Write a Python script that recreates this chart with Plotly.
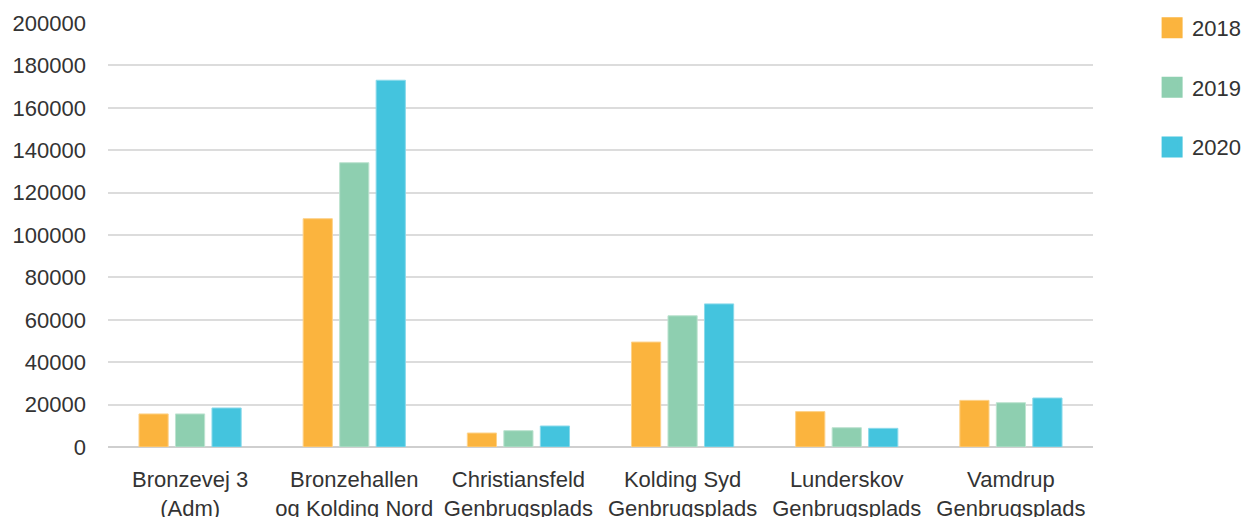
import plotly.graph_objects as go

categories = [
    "Bronzevej 3<br>(Adm)",
    "Bronzehallen<br>og Kolding Nord",
    "Christiansfeld<br>Genbrugsplads",
    "Kolding Syd<br>Genbrugsplads",
    "Lunderskov<br>Genbrugsplads",
    "Vamdrup<br>Genbrugsplads",
]
years = ["2018", "2019", "2020"]
values_2018 = [15600, 107700, 6600, 49500, 16700, 22000]
values_2019 = [15600, 134100, 7700, 61900, 9100, 20900]
values_2020 = [18400, 173000, 9900, 67500, 8800, 23100]
series = [values_2018, values_2019, values_2020]
colors = ["#FBB43E", "#8ECFB0", "#44C4DE"]
line_colors = ["#FDD28A", "#BDE3D0", "#8AD9EA"]

FONT = "Liberation Sans, Arial, sans-serif"
TXT = "#333333"

fig = go.Figure()
for yr, vals, c, lc in zip(years, series, colors, line_colors):
    fig.add_trace(go.Bar(
        x=categories, y=vals, name=yr, marker=dict(color=c, line=dict(color=lc, width=1)),
        showlegend=False, legendgroup=yr,
    ))
for yr, c in zip(years, colors):
    fig.add_trace(go.Scatter(
        x=[None], y=[None], mode="markers", name=yr, legendgroup=yr,
        marker=dict(symbol="square", size=16, color=c, line=dict(color=c, width=5)),
    ))

fig.update_layout(
    width=1247, height=517,
    margin=dict(l=108, r=154, t=23, b=70, autoexpand=False),
    paper_bgcolor="white", plot_bgcolor="white",
    barmode="group", bargap=0.333, bargroupgap=0.2,
    font=dict(family=FONT, size=22, color=TXT),
    legend=dict(
        x=1.06, xanchor="left", y=1.038, yanchor="top",
        font=dict(family=FONT, size=22, color=TXT),
        tracegroupgap=28, bgcolor="rgba(0,0,0,0)",
    ),
    xaxis=dict(
        showgrid=False, showline=False, ticks="", tickfont=dict(size=22, color=TXT),
        fixedrange=True, automargin=False, ticklabelstandoff=17,
    ),
    yaxis=dict(
        range=[0, 200000], tickmode="linear", tick0=0, dtick=20000, tickformat="d",
        showgrid=True, gridcolor="#DCDCDC", gridwidth=1.5,
        zeroline=True, zerolinecolor="#CFCFCF", zerolinewidth=1.5,
        showline=False, ticks="", ticklabelstandoff=21, automargin=False,
        tickfont=dict(size=22, color=TXT), fixedrange=True,
    ),
)

fig.write_html(
    "out.html",
    config={"displayModeBar": False},
    post_script="document.body.style.margin='0';document.body.style.overflow='hidden';",
)
